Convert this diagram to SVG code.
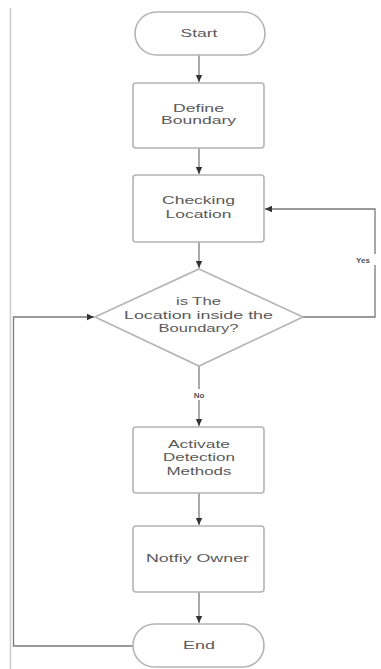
<svg xmlns="http://www.w3.org/2000/svg" width="381" height="669" viewBox="0 0 381 669">
<style>
.node{fill:#fff;stroke:#b4b4b4;stroke-width:1.6}
.lbl{font-family:"Liberation Sans",Arial,sans-serif;font-size:11.5px;fill:#5a5a5a;text-anchor:middle}
.edge{fill:none;stroke:#7a7a7a;stroke-width:1.3}
.small{font-family:"Liberation Sans",Arial,sans-serif;font-size:8px;font-weight:bold;fill:#555;text-anchor:middle}
</style>
<defs>
<marker id="ah" markerWidth="8" markerHeight="8" refX="7" refY="4" orient="auto" markerUnits="userSpaceOnUse">
<path d="M0,0.8 L7,4 L0,7.2 Z" fill="#333"/>
</marker>
</defs>
<rect width="381" height="669" fill="#fff"/>
<line x1="10.5" y1="8" x2="10.5" y2="669" stroke="#cfcfcf" stroke-width="1.6"/>
<g id="connectors">
<line class="edge" x1="199" y1="55" x2="199" y2="82" marker-end="url(#ah)"/>
<line class="edge" x1="199" y1="148" x2="199" y2="174" marker-end="url(#ah)"/>
<line class="edge" x1="199" y1="242" x2="199" y2="268" marker-end="url(#ah)"/>
<line class="edge" x1="199" y1="366" x2="199" y2="426" marker-end="url(#ah)"/>
<line class="edge" x1="199" y1="493" x2="199" y2="525" marker-end="url(#ah)"/>
<line class="edge" x1="199" y1="592" x2="199" y2="623" marker-end="url(#ah)"/>
<path class="edge" d="M303,317 H375 V209 H265" marker-end="url(#ah)"/>
<path class="edge" d="M133,646 H13.5 V317 H94" marker-end="url(#ah)"/>
<rect x="187" y="389" width="24" height="11" fill="#fff"/>
<text class="small" x="199" y="398">No</text>
<rect x="363" y="254" width="20" height="11" fill="#fff"/>
<text class="small" x="363" y="263" text-anchor="start">Yes</text>
</g>
<g id="start">
<rect class="node" x="135" y="12" width="130" height="43" rx="21.5"/>
<text class="lbl" x="199" y="37" textLength="37" lengthAdjust="spacingAndGlyphs">Start</text>
</g>
<g id="define">
<rect class="node" x="133" y="83" width="131" height="65" rx="3"/>
<text class="lbl" x="198.5" y="112" textLength="51" lengthAdjust="spacingAndGlyphs">Define</text>
<text class="lbl" x="198.5" y="124" textLength="75" lengthAdjust="spacingAndGlyphs">Boundary</text>
</g>
<g id="checking">
<rect class="node" x="133" y="175" width="131" height="67" rx="3"/>
<text class="lbl" x="198.5" y="204" textLength="73" lengthAdjust="spacingAndGlyphs">Checking</text>
<text class="lbl" x="198.5" y="218" textLength="66" lengthAdjust="spacingAndGlyphs">Location</text>
</g>
<g id="decision">
<polygon class="node" points="199,269 303,317 199,366 95,317"/>
<text class="lbl" x="198.5" y="305" textLength="45" lengthAdjust="spacingAndGlyphs">is The</text>
<text class="lbl" x="198.5" y="319" textLength="149" lengthAdjust="spacingAndGlyphs">Location inside the</text>
<text class="lbl" x="198.5" y="332" textLength="80" lengthAdjust="spacingAndGlyphs">Boundary?</text>
</g>
<g id="activate">
<rect class="node" x="133" y="427" width="131" height="66" rx="3"/>
<text class="lbl" x="199" y="448" textLength="62" lengthAdjust="spacingAndGlyphs">Activate</text>
<text class="lbl" x="199" y="461" textLength="72" lengthAdjust="spacingAndGlyphs">Detection</text>
<text class="lbl" x="199" y="475" textLength="65" lengthAdjust="spacingAndGlyphs">Methods</text>
</g>
<g id="notify">
<rect class="node" x="133" y="526" width="131" height="66" rx="3"/>
<text class="lbl" x="197.5" y="562" textLength="103" lengthAdjust="spacingAndGlyphs">Notfiy Owner</text>
</g>
<g id="end">
<rect class="node" x="133" y="624" width="131" height="43" rx="21.5"/>
<text class="lbl" x="199" y="649" textLength="32" lengthAdjust="spacingAndGlyphs">End</text>
</g>
</svg>
